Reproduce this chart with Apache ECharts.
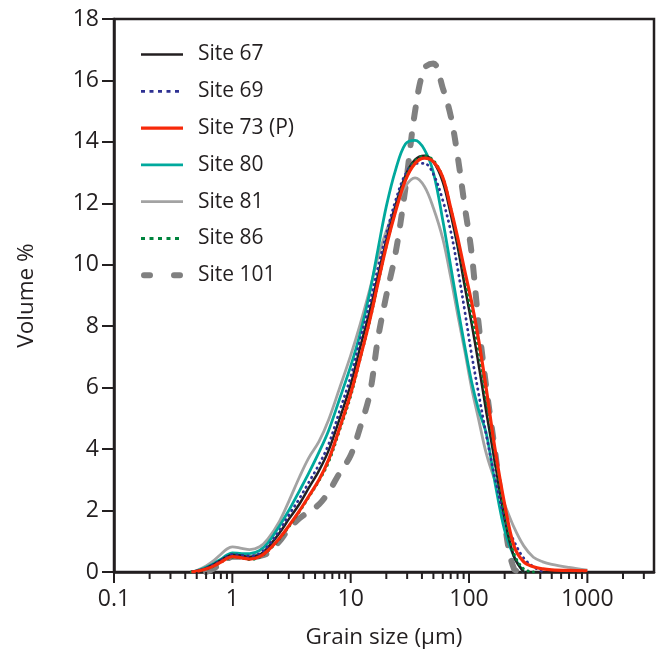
<!DOCTYPE html>
<html>
<head>
<meta charset="utf-8">
<script src="https://cdn.jsdelivr.net/npm/echarts@6/dist/echarts.min.js"></script>
<style>html,body{margin:0;padding:0;background:#fff}#c{width:657px;height:655px}</style>
</head>
<body>
<div id="c"></div>
<script>
// Grain size (µm)
const sizes = [0.45, 0.5, 0.6, 0.7, 0.8, 0.9, 1.0, 1.2, 1.4, 1.7, 2.0, 2.5, 3.0, 3.7, 4.4, 5.4, 6.5, 8, 10, 12, 14.5, 17, 20, 24, 29, 35, 42, 50, 60, 70, 80, 92, 105, 120, 140, 165, 200, 240, 290, 350, 420, 500, 700, 1000];

// Volume % per site (null = no data)
const site67 = [0, 0.03, 0.12, 0.25, 0.38, 0.5, 0.56, 0.53, 0.5, 0.56, 0.8, 1.27, 1.72, 2.22, 2.72, 3.3, 3.95, 4.95, 6.1, 7.3, 8.5, 9.65, 10.8, 11.95, 12.9, 13.42, 13.55, 13.35, 12.7, 11.65, 10.6, 9.3, 8.1, 6.8, 5.2, 3.6, 1.75, 0.5, 0, null, null, null, null, null];
const site69 = [0, 0.03, 0.12, 0.25, 0.38, 0.5, 0.57, 0.54, 0.52, 0.6, 0.85, 1.35, 1.85, 2.4, 2.9, 3.5, 4.15, 5.2, 6.35, 7.55, 8.75, 9.9, 11.0, 12.1, 12.95, 13.3, 13.3, 12.95, 12.1, 11.1, 9.9, 8.5, 7.1, 5.85, 4.45, 3.1, 1.75, 1.0, 0.45, 0.17, 0, null, null, null];
const site73 = [0, 0.02, 0.1, 0.2, 0.32, 0.44, 0.5, 0.46, 0.42, 0.5, 0.7, 1.1, 1.5, 2.0, 2.45, 3.0, 3.65, 4.65, 5.8, 6.95, 8.2, 9.4, 10.6, 11.75, 12.75, 13.3, 13.47, 13.35, 12.85, 11.85, 10.9, 9.8, 8.8, 7.6, 5.95, 4.05, 2.2, 0.85, 0.33, 0.17, 0.1, 0.07, 0.05, 0.04];
const site80 = [0, 0.04, 0.15, 0.28, 0.42, 0.55, 0.62, 0.6, 0.6, 0.7, 0.95, 1.5, 2.0, 2.65, 3.2, 3.9, 4.6, 5.6, 6.7, 7.75, 9.1, 10.5, 11.9, 13.1, 13.93, 14.05, 13.75, 13.0, 11.45, 9.95, 8.65, 7.35, 6.2, 5.3, 4.5, 2.95, 1.35, 0.5, 0, null, null, null, null, null];
const site81 = [0, 0.05, 0.2, 0.38, 0.58, 0.75, 0.82, 0.77, 0.73, 0.82, 1.08, 1.65, 2.3, 3.1, 3.7, 4.25, 4.95, 5.95, 7.05, 8.05, 9.2, 10.25, 11.1, 11.85, 12.55, 12.83, 12.55, 11.85, 10.85, 9.6, 8.4, 7.2, 6.0, 5.0, 3.85, 3.0, 2.2, 1.45, 0.85, 0.48, 0.33, 0.25, 0.15, 0.06];
const site86 = [0, 0.02, 0.09, 0.19, 0.31, 0.42, 0.48, 0.45, 0.4, 0.48, 0.68, 1.07, 1.47, 1.97, 2.42, 2.97, 3.57, 4.57, 5.72, 6.92, 8.17, 9.38, 10.6, 11.78, 12.82, 13.38, 13.55, 13.4, 12.85, 11.85, 10.8, 9.6, 8.35, 7.25, 5.6, 3.9, 1.9, 0.6, 0.1, 0, null, null, null, null];
const site101 = [null, null, 0, 0.12, 0.28, 0.42, 0.5, 0.5, 0.48, 0.52, 0.62, 1.0, 1.4, 1.75, 1.95, 2.2, 2.6, 3.2, 3.8, 4.7, 5.8, 7.6, 9.0, 10.4, 12.5, 15.0, 16.4, 16.55, 15.75, 14.85, 13.55, 11.9, 10.4, 8.15, 6.0, 4.0, 1.6, 0.1, 0, null, null, null, null, null];

const seriesNames = ['Site 67', 'Site 69', 'Site 73 (P)', 'Site 80', 'Site 81', 'Site 86', 'Site 101'];

// Axis ticks
const xMajorTicks = [0.1, 1, 10, 100, 1000];
const xTickLabels = ['0.1', '1', '10', '100', '1000'];
const xMinorTicks = [0.2,0.3,0.4,0.5,0.6,0.7,0.8,0.9, 2,3,4,5,6,7,8,9, 20,30,40,50,60,70,80,90, 200,300,400,500,600,700,800,900, 2000,3000];
const yTicks = [0, 2, 4, 6, 8, 10, 12, 14, 16, 18];

const INK = '#231f20';
const FONT = '"Open Sans", "Noto Sans", sans-serif';

function pairs(vals) {
  const out = [];
  for (let i = 0; i < sizes.length; i++) if (vals[i] !== null) out.push([sizes[i], vals[i]]);
  return out;
}

const styles = {
  'Site 67': {color: INK, width: 2.5, type: 'solid'},
  'Site 69': {color: '#2e3192', width: 2.8, type: [0.5, 5], cap: 'round', legendType: [4, 4.5]},
  'Site 73 (P)': {color: '#f7290a', width: 3.2, type: 'solid'},
  'Site 80': {color: '#00a99d', width: 2.8, type: 'solid'},
  'Site 81': {color: '#a3a3a3', width: 2.8, type: 'solid'},
  'Site 86': {color: '#00843d', width: 2.8, type: [0.5, 5], cap: 'round', legendType: [4, 4.5]},
  'Site 101': {color: '#808080', width: 6, type: [11, 16], cap: 'round', legendType: [6, 24], legendOffset: -3}
};
const dataMap = {
  'Site 67': site67, 'Site 69': site69, 'Site 73 (P)': site73, 'Site 80': site80,
  'Site 81': site81, 'Site 86': site86, 'Site 101': site101
};
const drawOrder = ['Site 101', 'Site 81', 'Site 80', 'Site 67', 'Site 69', 'Site 86', 'Site 73 (P)'];

const lineSeries = drawOrder.map(n => ({
  name: n, type: 'line', data: pairs(dataMap[n]), smooth: 0.35, symbol: 'none', showSymbol: false,
  color: styles[n].color,
  lineStyle: {color: styles[n].color, width: styles[n].width, type: styles[n].type, cap: styles[n].cap || 'butt'},
  emphasis: {disabled: true}
}));

const legendData = seriesNames.map(n => {
  const s = styles[n];
  return {
    name: n,
    itemStyle: {color: 'rgba(0,0,0,0)', borderWidth: 0, opacity: 0},
    lineStyle: {
      color: s.color, width: s.width, opacity: 1,
      type: s.legendType || s.type,
      dashOffset: s.legendOffset || 0,
      cap: n === 'Site 101' ? 'round' : 'butt'
    }
  };
});

const tickData = xMajorTicks.map(v => [v, 0, 1]).concat(xMinorTicks.map(v => [v, 0, 0]));
const tickSeries = {
  type: 'custom', name: 'ticks', data: tickData, encode: {x: 0, y: 1}, clip: false, silent: true, z: 5,
  renderItem: function (params, api) {
    const p = api.coord([api.value(0), 0]);
    const len = api.value(2) ? 11 : 7;
    return {type: 'line', shape: {x1: p[0], y1: p[1], x2: p[0], y2: p[1] + len},
      style: {stroke: INK, lineWidth: 2}};
  }
};

const chart = echarts.init(document.getElementById('c'), null, {renderer: 'canvas'});
chart.setOption({
  animation: false,
  backgroundColor: '#fff',
  textStyle: {fontFamily: FONT, color: INK},
  grid: {left: 114, top: 19, right: 0, bottom: 83, show: true, borderColor: INK, borderWidth: 2.5, containLabel: false},
  legend: {
    orient: 'vertical', left: 138, top: 44, padding: 0, itemWidth: 42, itemHeight: 20, itemGap: 15.8,
    data: legendData, selectedMode: false,
    itemStyle: {color: 'rgba(0,0,0,0)', borderWidth: 0, opacity: 0},
    textStyle: {fontFamily: FONT, fontSize: 21, color: INK, lineHeight: 20, padding: [0, 0, 0, 10]}
  },
  xAxis: {
    type: 'log', logBase: 10, min: 0.1, max: 3656,
    name: 'Grain size (µm)', nameLocation: 'middle', nameGap: 54,
    nameTextStyle: {fontFamily: FONT, fontSize: 22.5, color: INK},
    axisLine: {show: true, lineStyle: {color: INK, width: 2.5}},
    axisTick: {show: false},
    splitLine: {show: false},
    axisLabel: {
      fontFamily: FONT, fontSize: 23, color: INK, margin: 16,
      formatter: function (v) {
        for (let i = 0; i < xMajorTicks.length; i++) {
          if (Math.abs(Math.log10(v) - Math.log10(xMajorTicks[i])) < 1e-6) return xTickLabels[i];
        }
        return '';
      }
    }
  },
  yAxis: {
    type: 'value', min: yTicks[0], max: yTicks[yTicks.length - 1], interval: 2,
    name: 'Volume %', nameLocation: 'middle', nameGap: 76,
    nameTextStyle: {fontFamily: FONT, fontSize: 22.5, color: INK},
    axisLine: {show: true, lineStyle: {color: INK, width: 2.5}},
    axisTick: {show: true, length: 12, lineStyle: {color: INK, width: 2}},
    splitLine: {show: false},
    axisLabel: {fontFamily: FONT, fontSize: 23, color: INK, margin: 15}
  },
  series: lineSeries.concat([tickSeries])
});
</script>
</body>
</html>
